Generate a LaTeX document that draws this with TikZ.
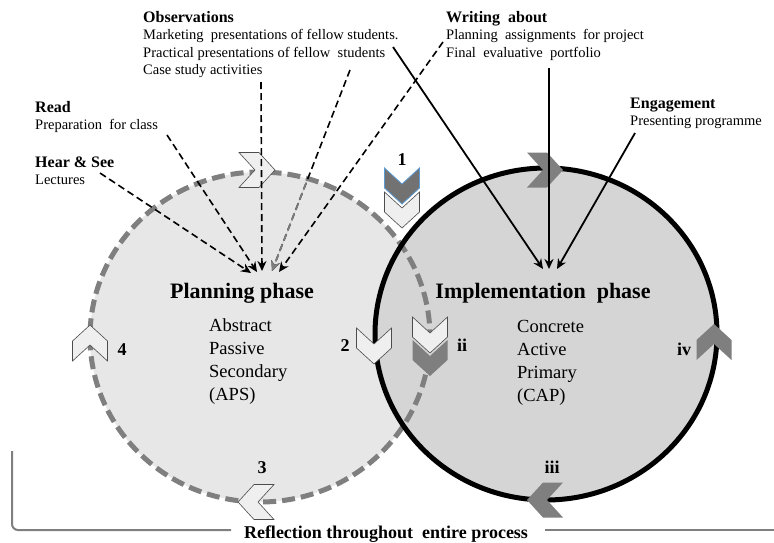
\documentclass[tikz,border=0pt]{standalone}
\usepackage{fontspec}
\setmainfont{Liberation Serif}
\usetikzlibrary{arrows.meta}
\definecolor{lgfill}{HTML}{E7E7E7}
\definecolor{rgfill}{HTML}{D5D5D5}
\definecolor{dgray}{HTML}{7F7F7F}
\definecolor{chevlight}{HTML}{EFEFEF}
\definecolor{chevblue}{HTML}{5B9BD5}
\tikzset{
  chevron/.pic={\path[pic actions] (-18,-17.5) -- (2,-17.5) -- (18,0) -- (2,17.5) -- (-18,17.5) -- (-2,0) -- cycle;}
}
\begin{document}
\begin{tikzpicture}[x=1pt,y=-1pt,
  hd/.style={font=\fontsize{16}{18}\selectfont\bfseries, anchor=base west, inner sep=0pt},
  tx/.style={font=\fontsize{14.5}{17}\selectfont, anchor=base west, inner sep=0pt},
  phase/.style={font=\fontsize{22}{24}\selectfont\bfseries, anchor=base, inner sep=0pt},
  attr/.style={font=\fontsize{18.5}{22}\selectfont, anchor=base west, inner sep=0pt},
  num/.style={font=\fontsize{18}{20}\selectfont\bfseries, anchor=base, inner sep=0pt},
  dasharrow/.style={draw=black, line width=1.6pt, dash pattern=on 7pt off 4pt, -{Stealth[length=10pt,width=9pt]}},
  solidarrow/.style={draw=black, line width=1.8pt, -{Stealth[length=10pt,width=9pt]}},
  lightchev/.style={fill=chevlight, draw=black!70, line width=0.6pt},
  darkchev/.style={fill=dgray, draw=none},
  bracket/.style={draw=dgray, line width=2pt, rounded corners=6pt},
]
\useasboundingbox (0,0) rectangle (774,542);

% circles: fills
\fill[lgfill] (260,337) ellipse [x radius=170, y radius=165];
\fill[rgfill] (546,334) ellipse [x radius=171, y radius=166];
% outlines
\draw[dgray, line width=5pt, dash pattern=on 13pt off 6pt] (260,337) ellipse [x radius=170, y radius=165];
\draw[black, line width=5pt] (546,334) ellipse [x radius=171, y radius=166];

% chevrons on the planning circle
\pic[lightchev] (chTop) at (257,170) {chevron};
\pic[lightchev, rotate=90] (ch4) at (90,343) {chevron};
\pic[lightchev, rotate=-90] (ch2) at (374,346) {chevron};
\pic[lightchev, rotate=180] (ch3) at (256,502) {chevron};
% chevrons 1
\pic[lightchev, rotate=-90] (ch1b) at (402,210) {chevron};
\pic[fill=dgray!90!black, draw=chevblue, line width=0.8pt, rotate=-90] (ch1a) at (402,186) {chevron};
% chevrons ii
\pic[darkchev, rotate=-90] (chiib) at (430,358) {chevron};
\pic[lightchev, rotate=-90] (chiia) at (430,335) {chevron};
% chevrons on the implementation circle
\pic[darkchev] (chTopR) at (545,170) {chevron};
\pic[darkchev, rotate=90] (chiv) at (714,342) {chevron};
\pic[darkchev, rotate=180] (chiii) at (545,500) {chevron};

% texts
\node[hd] (obsH) at (143,22) {Observations};
\node[tx] (obs1) at (143,39.5) {Marketing\ \ presentations of fellow students.};
\node[tx] (obs2) at (143,57) {Practical presentations of fellow\ \ students};
\node[tx] (obs3) at (143,74.5) {Case study activities};
\node[hd] (readH) at (35,112) {Read};
\node[tx] (read1) at (35,129.5) {Preparation\ \ for class};
\node[hd] (hearH) at (35,167) {Hear \& See};
\node[tx] (hear1) at (35,184.5) {Lectures};
\node[hd] (wrH) at (446,22) {Writing\ \ about};
\node[tx] (wr1) at (446,39.5) {Planning\ \ assignments\ \ for project};
\node[tx] (wr2) at (446,57) {Final\ \ evaluative\ \ portfolio};
\node[hd] (engH) at (630,108) {Engagement};
\node[tx] (eng1) at (630,125.5) {Presenting programme};

\node[phase] (plan) at (242,298) {Planning phase};
\node[attr] (aps1) at (209,331) {Abstract};
\node[attr] (aps2) at (209,354) {Passive};
\node[attr] (aps3) at (209,377) {Secondary};
\node[attr] (aps4) at (209,400) {(APS)};
\node[phase] (impl) at (543,298) {Implementation\ \ phase};
\node[attr] (cap1) at (517,332) {Concrete};
\node[attr] (cap2) at (517,355) {Active};
\node[attr] (cap3) at (517,378) {Primary};
\node[attr] (cap4) at (517,401) {(CAP)};

\node[num] (n1) at (402,165) {1};
\node[num] (n2) at (345,351) {2};
\node[num] (n3) at (262,473) {3};
\node[num] (n4) at (122,355) {4};
\node[num] (nii) at (462,351) {ii};
\node[num] (niii) at (552,473) {iii};
\node[num] (niv) at (684,355) {iv};

\node[font=\fontsize{18}{20}\selectfont\bfseries, anchor=base, inner sep=0pt] (refl) at (386,538) {Reflection throughout\ \ entire process};

% coordinates for connector ends
\coordinate (sHear) at (100,173);
\coordinate (sRead) at (167,135);
\coordinate (sCase) at (261,82);
\coordinate (sPrac) at (350,70);
\coordinate (sWrit) at (443,42);
\coordinate (tHear) at (251,273);
\coordinate (tRead) at (257,272);
\coordinate (tCase) at (262,271);
\coordinate (tPrac) at (272,271);
\coordinate (tWrit) at (279,272);
\coordinate (sMark) at (393,47);
\coordinate (sWr2) at (549,68);
\coordinate (sEng) at (635,133);
\coordinate (tMark) at (543,269);
\coordinate (tWr2) at (549,269);
\coordinate (tEng) at (557,269);

% dashed arrows into planning phase
\draw[dasharrow] (sHear) -- (tHear);
\draw[dasharrow] (sRead) -- (tRead);
\draw[dasharrow] (sCase) -- (tCase);
\draw[dasharrow] (sPrac) -- (tPrac);
\begin{scope}
  \clip (260,337) ellipse [x radius=167, y radius=162];
  \draw[dasharrow, draw=dgray, fill=dgray] (sPrac) -- (tPrac);
\end{scope}
\draw[dasharrow] (sWrit) -- (tWrit);
% solid arrows into implementation phase
\draw[solidarrow] (sMark) -- (tMark);
\draw[solidarrow] (sWr2) -- (tWr2);
\draw[solidarrow] (sEng) -- (tEng);

% reflection bracket
\coordinate (brTop) at (12,451);
\coordinate (brL) at (231,530);
\coordinate (brR) at (545,530);
\coordinate (brEnd) at (774,530);
\draw[bracket] (brTop) |- (brL);
\draw[bracket] (brR) -- (brEnd);
\end{tikzpicture}
\end{document}
